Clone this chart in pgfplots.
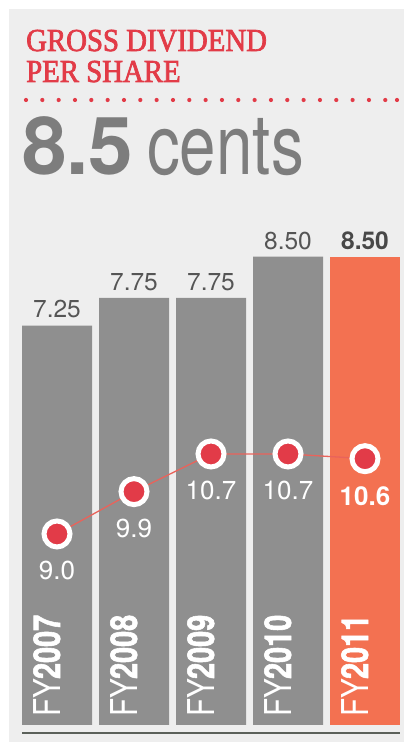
\documentclass[border=0pt]{standalone}
\usepackage{fontspec}
\setmainfont{TeX Gyre Heros}
\newfontfamily\condfont[FakeStretch=0.8]{TeX Gyre Heros}
\newfontfamily\condboldfont[FakeStretch=0.78,FakeBold=1.5]{TeX Gyre Heros Bold}
\newfontfamily\titlefont[FakeStretch=0.9,FakeBold=2.2]{Liberation Serif}
\newfontfamily\bigfont[FakeStretch=0.78]{TeX Gyre Heros}
\usepackage{pgfplots}
\pgfplotsset{compat=1.18}
\definecolor{bg}{HTML}{EEEEEE}
\definecolor{barGrey}{HTML}{8F8F8F}
\definecolor{barOrange}{HTML}{F37151}
\definecolor{titleRed}{HTML}{E23B47}
\definecolor{bigGrey}{HTML}{7D7D7D}
\definecolor{labGrey}{HTML}{555555}
\definecolor{dotRed}{HTML}{E23B48}
\definecolor{lineRed}{HTML}{E9635B}
\definecolor{lineDark}{HTML}{5B615A}
\newcommand{\fy}[1]{{\condfont FY}{\condboldfont #1}}
\begin{document}
\begin{tikzpicture}[x=1bp,y=1bp]
\useasboundingbox (0,0) rectangle (404,742);
\fill[bg] (9,0) rectangle (404,733);
\node[anchor=base west, inner sep=0pt, text=titleRed, font=\titlefont\fontsize{32bp}{32bp}\selectfont] at (26,691) {GROSS DIVIDEND};
\node[anchor=base west, inner sep=0pt, text=titleRed, font=\titlefont\fontsize{32bp}{32bp}\selectfont] at (26,660) {PER SHARE};
\foreach \i in {0,...,22} \fill[titleRed] (26+\i*16.33,642) circle (2.1);
\fill[titleRed] (397,642) circle (2.1);
\node[anchor=base west, inner sep=0pt, text=bigGrey, font=\fontsize{80bp}{80bp}\selectfont\bfseries] at (22,567) {8.5};
\node[anchor=base west, inner sep=0pt, text=bigGrey, font=\bigfont\fontsize{84bp}{84bp}\selectfont] at (147,567) {cents};
\draw[lineDark, line width=2bp] (22,9) -- (400,9);

\begin{axis}[at={(18.5bp,17bp)}, anchor=south west, scale only axis,
  width=385bp, height=661.2bp, xmin=-0.5, xmax=4.5, ymin=0, ymax=12,
  hide axis, clip=false]
\addplot[ybar, bar width=70bp, bar shift=0pt, fill=barGrey, draw=none,
  point meta=explicit symbolic, nodes near coords,
  every node near coord/.append style={anchor=south, inner sep=0pt, yshift=7bp, text=labGrey, font=\fontsize{24.5bp}{24.5bp}\selectfont}]
  coordinates {(0,7.25) [7.25] (1,7.75) [7.75] (2,7.75) [7.75] (3,8.5) [8.50]};
\addplot[ybar, bar width=70bp, bar shift=0pt, fill=barOrange, draw=none,
  point meta=explicit symbolic, nodes near coords,
  every node near coord/.append style={anchor=south, inner sep=0pt, yshift=7bp, text=labGrey!85!black, font=\fontsize{24.5bp}{24.5bp}\selectfont\bfseries}]
  coordinates {(4,8.5) [8.50]};
\node[rotate=90, anchor=base west, inner sep=0pt, text=white, font=\fontsize{37bp}{37bp}\selectfont] at ([xshift=3bp,yshift=8bp]axis cs:0,0) {\fy{2007}};
\node[rotate=90, anchor=base west, inner sep=0pt, text=white, font=\fontsize{37bp}{37bp}\selectfont] at ([xshift=3bp,yshift=8bp]axis cs:1,0) {\fy{2008}};
\node[rotate=90, anchor=base west, inner sep=0pt, text=white, font=\fontsize{37bp}{37bp}\selectfont] at ([xshift=3bp,yshift=8bp]axis cs:2,0) {\fy{2009}};
\node[rotate=90, anchor=base west, inner sep=0pt, text=white, font=\fontsize{37bp}{37bp}\selectfont] at ([xshift=3bp,yshift=8bp]axis cs:3,0) {\fy{2010}};
\node[rotate=90, anchor=base west, inner sep=0pt, text=white, font=\fontsize{37bp}{37bp}\selectfont] at ([xshift=3bp,yshift=8bp]axis cs:4,0) {\fy{2011}};
\end{axis}

\begin{axis}[at={(18.5bp,17bp)}, anchor=south west, scale only axis,
  width=385bp, height=661.2bp, xmin=-0.5, xmax=4.5, ymin=4.941, ymax=18.991,
  hide axis, clip=false]
\addplot[draw=lineRed, line width=1.3bp, mark=*, mark size=13bp,
  mark options={fill=dotRed, draw=white, line width=5bp},
  point meta=explicit symbolic, nodes near coords,
  every node near coord/.append style={anchor=north, inner sep=0pt, yshift=-25bp, text=white, font=\fontsize{26bp}{26bp}\selectfont}]
  coordinates {(0,9.0) [9.0] (1,9.9) [9.9] (2,10.7) [10.7] (3,10.7) [10.7] (4,10.6) [\textbf{10.6}]};
\end{axis}
\end{tikzpicture}
\end{document}
